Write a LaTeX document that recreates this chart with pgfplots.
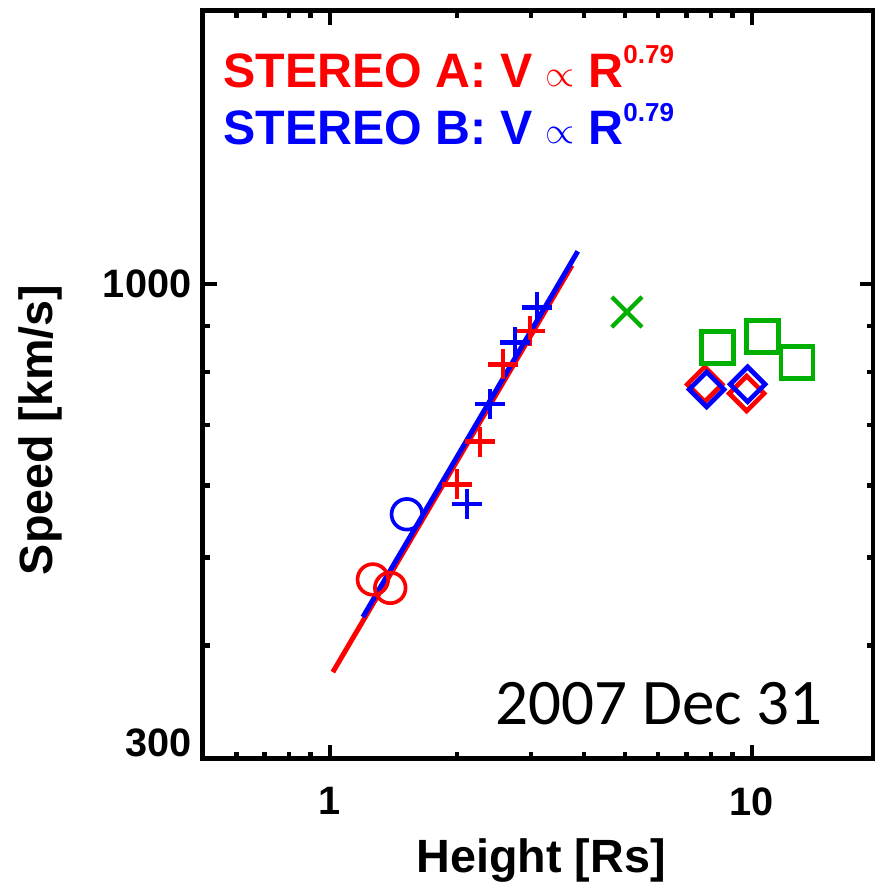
\documentclass[border=0pt]{standalone}
\usepackage{pgfplots}
\pgfplotsset{compat=1.18}
\usepackage{fontspec}
\usepackage{graphicx}
\setmainfont{Liberation Sans}
\newfontfamily\carlito{Carlito}
\definecolor{idlred}{RGB}{255,0,0}
\definecolor{idlblue}{RGB}{0,0,255}
\definecolor{idlgreen}{RGB}{0,176,0}
\newcommand{\prop}{\raisebox{0.3pt}{\scalebox{0.78}{\ensuremath{\propto}}}}
\begin{document}
\begin{tikzpicture}
\useasboundingbox (-60.9pt,-37.5pt) rectangle (201.6pt,227.7pt);
\begin{axis}[
  scale only axis,
  width=201.3pt, height=224.4pt,
  xmode=log, ymode=log,
  xmin=0.5, xmax=19.5, ymin=300, ymax=2000,
  axis line style={line width=1.5pt},
  every tick/.style={black, line width=1.3pt},
  major tick length=4.3pt,
  minor tick length=2.1pt,
  tick align=inside,
  tick pos=both,
  xtick={1,10}, xticklabels={1,10},
  ytick={300,1000}, yticklabels={,1000},
  minor xtick={0.6,0.7,0.8,0.9,2,3,4,5,6,7,8,9},
  minor ytick={400,500,600,700,800,900},
  tick label style={font=\bfseries\fontsize{11.9}{12}\selectfont},
  xticklabel style={yshift=-5pt},
  clip=false,
]
% STEREO A fit and points
\addplot[idlred, line width=1.5pt] coordinates {(1.016,374) (3.75,1049)};
\addplot[idlred, only marks, mark=o, mark size=4.6pt, line width=1.1pt] coordinates {(1.264,473) (1.39,463)};
\addplot[idlred, only marks, mark=+, mark size=4.5pt, line width=1.3pt] coordinates {(2.0,602) (2.268,671) (2.57,816) (2.98,888)};
\addplot[idlred, only marks, mark=square, mark size=3.7pt, line width=1.4pt, mark options={rotate=45}] coordinates {(7.74,776) (9.73,758)};
% STEREO B fit and points
\addplot[idlblue, only marks, mark=o, mark size=4.6pt, line width=1.1pt] coordinates {(1.522,558)};
\addplot[idlblue, only marks, mark=+, mark size=4.5pt, line width=1.3pt] coordinates {(2.112,573) (2.394,738) (2.745,863) (3.094,943)};
\addplot[idlblue, only marks, mark=square, mark size=3.7pt, line width=1.4pt, mark options={rotate=45}] coordinates {(7.82,766) (9.78,776)};
\addplot[idlblue, line width=1.5pt] coordinates {(1.197,430) (3.87,1087)};
% green
\addplot[idlgreen, only marks, mark=x, mark size=6.4pt, line width=1.3pt] coordinates {(5.06,932)};
\addplot[idlgreen, only marks, mark=square, mark size=4.8pt, line width=1.3pt] coordinates {(8.3,852) (10.6,876) (12.8,820)};
% texts
\node[anchor=base west, text=idlred, font=\bfseries\fontsize{14.5}{15}\selectfont, inner sep=0pt] at (rel axis cs:0.0298,0.898) {STEREO A: V \prop{} R\raisebox{7pt}{\fontsize{7.8}{8}\selectfont 0.79}};
\node[anchor=base west, text=idlblue, font=\bfseries\fontsize{14.5}{15}\selectfont, inner sep=0pt] at (rel axis cs:0.0298,0.821) {STEREO B: V \prop{} R\raisebox{7pt}{\fontsize{7.8}{8}\selectfont 0.79}};
\node[anchor=base west, font=\carlito\fontsize{19.5}{20}\selectfont, inner sep=0pt] at (rel axis cs:0.435,0.0455) {2007 Dec 31};
\node[anchor=east, font=\bfseries\fontsize{11.9}{12}\selectfont] at (rel axis cs:0,0.0214) {300};
\node[anchor=base, font=\bfseries\fontsize{14}{15}\selectfont, inner sep=0pt] at (rel axis cs:0.504,-0.1524) {Height [Rs]};
\node[anchor=base, rotate=90, font=\bfseries\fontsize{14}{15}\selectfont, inner sep=0pt] at (rel axis cs:-0.225,0.44) {Speed [km/s]};
\end{axis}
\end{tikzpicture}
\end{document}
